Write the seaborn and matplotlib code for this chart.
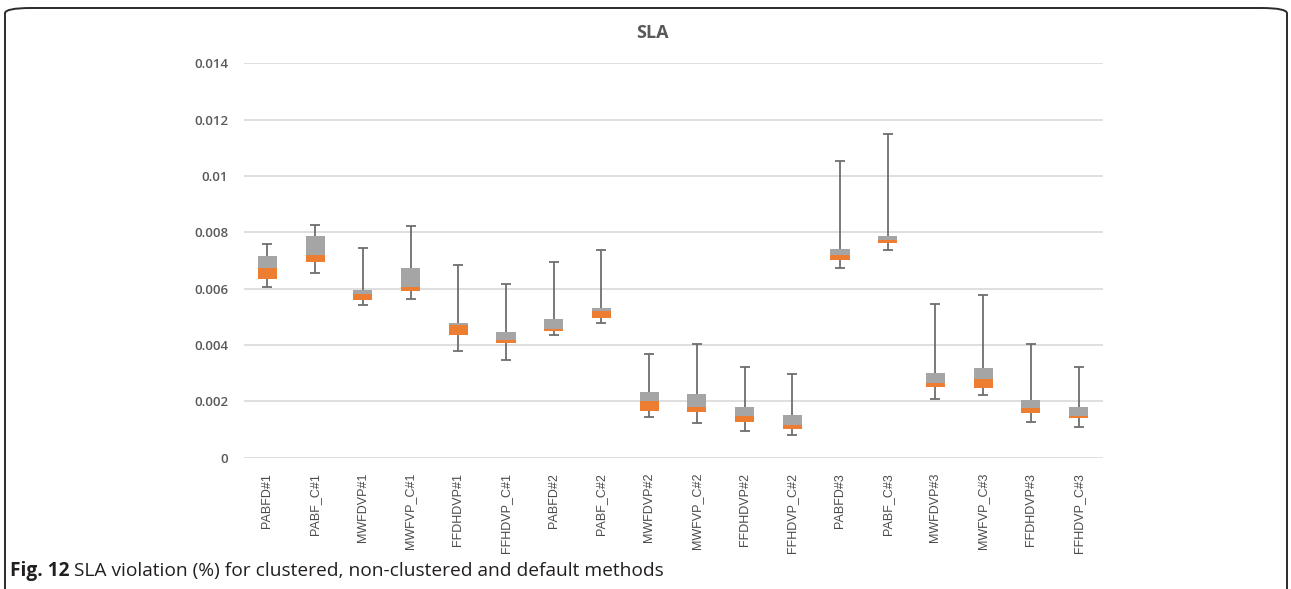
import numpy as np
import pandas as pd
import seaborn as sns
import matplotlib.pyplot as plt
from matplotlib.patches import FancyBboxPatch

# --- data (Excel style box plot) ---
methods = ['PABFD#1', 'PABF_C#1', 'MWFDVP#1', 'MWFVP_C#1', 'FFDHDVP#1', 'FFHDVP_C#1',
           'PABFD#2', 'PABF_C#2', 'MWFDVP#2', 'MWFVP_C#2', 'FFDHDVP#2', 'FFHDVP_C#2',
           'PABFD#3', 'PABF_C#3', 'MWFDVP#3', 'MWFVP_C#3', 'FFDHDVP#3', 'FFHDVP_C#3']
whisker_min = [0.00605, 0.00655, 0.00541, 0.00562, 0.00380, 0.00348,
               0.00436, 0.00478, 0.00143, 0.00123, 0.00096, 0.00080,
               0.00672, 0.00736, 0.00207, 0.00223, 0.00127, 0.00110]
q1 = [0.00635, 0.00695, 0.00560, 0.00592, 0.00437, 0.00406,
      0.00450, 0.00497, 0.00166, 0.00161, 0.00126, 0.00102,
      0.00703, 0.00762, 0.00252, 0.00248, 0.00158, 0.00142]
median = [0.00675, 0.00718, 0.00580, 0.00607, 0.00472, 0.00418,
          0.00457, 0.00520, 0.00200, 0.00180, 0.00149, 0.00117,
          0.00718, 0.00774, 0.00266, 0.00278, 0.00175, 0.00149]
q3 = [0.00717, 0.00788, 0.00595, 0.00673, 0.00479, 0.00447,
      0.00492, 0.00530, 0.00234, 0.00227, 0.00180, 0.00152,
      0.00741, 0.00788, 0.00302, 0.00318, 0.00204, 0.00180]
whisker_max = [0.00757, 0.00827, 0.00743, 0.00824, 0.00685, 0.00618,
               0.00694, 0.00736, 0.00368, 0.00404, 0.00322, 0.00298,
               0.01052, 0.01150, 0.00546, 0.00578, 0.00403, 0.00322]
y_ticks = [0, 0.002, 0.004, 0.006, 0.008, 0.01, 0.012, 0.014]

df = pd.DataFrame({'method': methods, 'min': whisker_min, 'q1': q1,
                   'median': median, 'q3': q3, 'max': whisker_max})
df['lower_box'] = df['median'] - df['q1']
df['upper_box'] = df['q3'] - df['median']

sns.set_theme(style='white')
plt.rcParams['font.family'] = ['Open Sans', 'DejaVu Sans']

GREY = '#A5A5A5'
ORANGE = '#ED7D31'
TXT = '#595959'

fig = plt.figure(figsize=(12.91, 5.89), dpi=100)
ax = fig.add_axes([243.5 / 1291, 1 - 457.7 / 589, (1102.5 - 243.5) / 1291, (457.7 - 63.3) / 589])

# whiskers behind the boxes
pos = np.arange(len(df))
mid = (df['min'] + df['max']) / 2
ax.errorbar(pos, mid, yerr=[mid - df['min'], df['max'] - mid], fmt='none',
            ecolor='#6E6E6E', elinewidth=1.3, capsize=3.8, capthick=1.3, zorder=0.8)

# floating stacked boxes: q1 -> median (orange), median -> q3 (grey)
sns.barplot(data=df, x='method', y='lower_box', bottom=df['q1'], order=methods,
            color=ORANGE, width=0.4, errorbar=None, saturation=1, linewidth=0,
            ax=ax, zorder=1)
sns.barplot(data=df, x='method', y='upper_box', bottom=df['median'], order=methods,
            color=GREY, width=0.4, errorbar=None, saturation=1, linewidth=0,
            ax=ax, zorder=1)

ax.set_xlim(-0.5, len(methods) - 0.5)
ax.set_ylim(0, 0.014)
ax.set_yticks(y_ticks)
ax.set_yticklabels([f'{v:g}' for v in y_ticks])
ax.set_axisbelow(True)
ax.yaxis.grid(True, color='#D9D9D9', linewidth=1.2)
ax.xaxis.grid(False)
sns.despine(ax=ax, left=True, bottom=True)
ax.tick_params(axis='both', length=0)
ax.tick_params(axis='y', labelsize=9.5, labelcolor=TXT, pad=11)
ax.tick_params(axis='x', labelsize=9, labelcolor='#4a4a4a', pad=11)
for lab in ax.get_yticklabels():
    lab.set_fontweight('semibold')
for lab in ax.get_xticklabels():
    lab.set_rotation(90)
    lab.set_family(['Liberation Sans', 'DejaVu Sans'])
ax.set_xlabel('')
ax.set_ylabel('')

fig.text(652 / 1291, 1 - 33 / 589, 'SLA', ha='center', va='center',
         fontsize=13, fontweight='bold', color=TXT)

# rounded frame around the figure, open at the bottom edge
frame = FancyBboxPatch((5 / 1291, -0.05), 1282 / 1291, 1.05 - 8 / 589,
                       boxstyle='round,pad=0,rounding_size=0.02',
                       transform=fig.transFigure, facecolor='none',
                       edgecolor='#2b2b2b', linewidth=1.4, mutation_aspect=589 / 1291)
fig.patches.append(frame)

# caption: bold "Fig. 12" followed by normal text
fig.canvas.draw()
renderer = fig.canvas.get_renderer()
t1 = fig.text(10 / 1291, 1 - 571 / 589, 'Fig. 12', ha='left', va='center',
              fontsize=13.8, fontweight='bold', color='#231f20')
bb = t1.get_window_extent(renderer=renderer)
fig.text((bb.x1 + 5) / 1291, 1 - 571 / 589,
         'SLA violation (%) for clustered, non-clustered and default methods',
         ha='left', va='center', fontsize=13.8, color='#231f20')

fig.savefig('out.png', dpi=100)
